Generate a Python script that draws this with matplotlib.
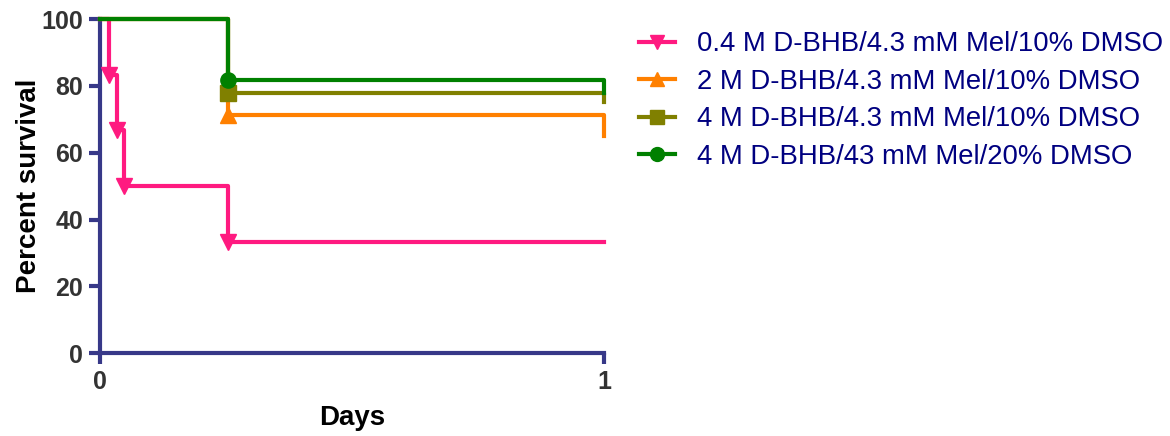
import matplotlib
matplotlib.use("Agg")
import matplotlib.pyplot as plt

plt.rcParams['font.family'] = ['Liberation Sans', 'DejaVu Sans']

# Kaplan-Meier curves: event days and survival after each step
labels = [
    "0.4 M D-BHB/4.3 mM Mel/10% DMSO",
    "2 M D-BHB/4.3 mM Mel/10% DMSO",
    "4 M D-BHB/4.3 mM Mel/10% DMSO",
    "4 M D-BHB/43 mM Mel/20% DMSO",
]
days = [
    [0, 0.018, 0.034, 0.048, 0.254, 1],
    [0, 0.254, 1],
    [0, 0.254, 1],
    [0, 0.254, 1],
]
survival = [
    [100, 83.3, 66.7, 50.0, 33.3, 33.3],
    [100, 71.4, 65.0],
    [100, 77.8, 75.1],
    [100, 81.8, 77.8],
]
# indices of points that get a marker
marked = [[1, 2, 3, 4], [1], [1], [1]]

colors = ["#FF1A80", "#FF8000", "#808000", "#008000"]
markers = ["v", "^", "s", "o"]
spine_col = "#373888"

fig = plt.figure(figsize=(11.7, 4.36), dpi=100)
ax = fig.add_axes([0.0855, 0.19, 0.431, 0.766])

handles = []
for d, s, idx, c, m, lab in zip(days, survival, marked, colors, markers, labels):
    ax.step(d, s, where='post', color=c, lw=3, clip_on=False, zorder=3)
    ax.plot([d[i] for i in idx], [s[i] for i in idx], ls='none', marker=m,
            ms=11, color=c, clip_on=False, zorder=4)
    h, = ax.plot([], [], color=c, lw=3, marker=m, ms=10, label=lab)
    handles.append(h)

ax.set_xlim(0, 1)
ax.set_ylim(0, 100)
ax.set_xticks([0, 1])
ax.set_yticks([0, 20, 40, 60, 80, 100])

for side in ['top', 'right']:
    ax.spines[side].set_visible(False)
for side in ['left', 'bottom']:
    ax.spines[side].set_color(spine_col)
    ax.spines[side].set_linewidth(3)

ax.tick_params(axis='both', colors=spine_col, width=3, length=8,
               labelsize=18, labelcolor='#333333', pad=4)
for t in ax.get_xticklabels() + ax.get_yticklabels():
    t.set_fontweight('bold')

ax.set_xlabel("Days", fontsize=20, fontweight='bold', labelpad=8)
ax.set_ylabel("Percent survival", fontsize=20, fontweight='bold', labelpad=0)

fig.legend(handles=handles, loc='upper left', bbox_to_anchor=(0.525, 0.985),
           frameon=False, fontsize=19.8, labelcolor='#000080',
           handlelength=1.3, handletextpad=0.8, labelspacing=0.42)

fig.savefig("out.png", dpi=100)
